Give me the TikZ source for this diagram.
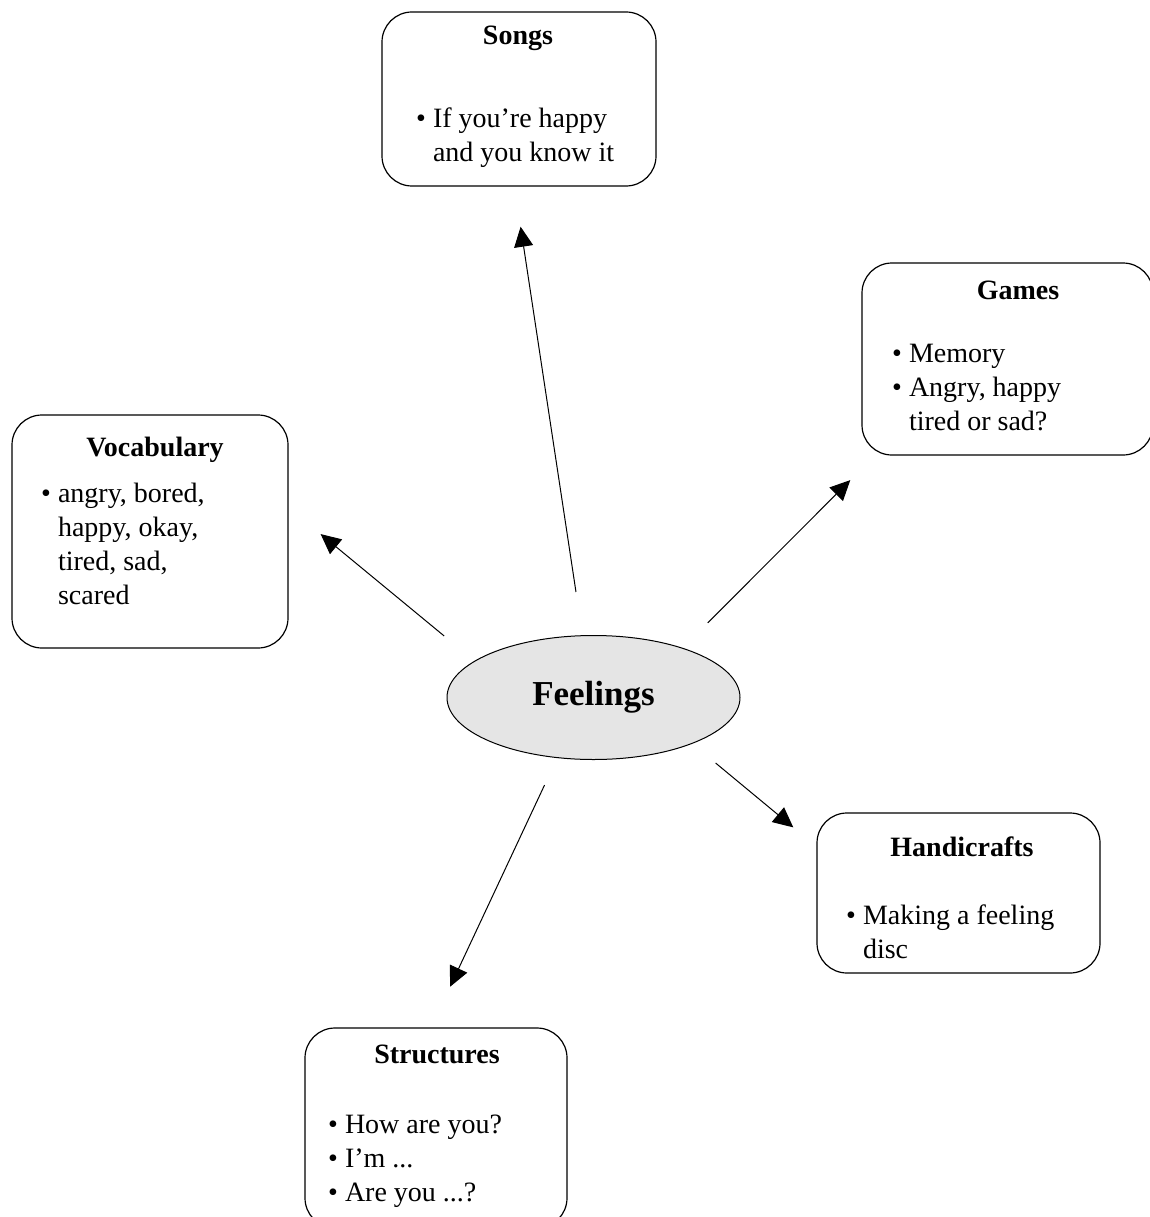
\documentclass[tikz,border=0pt]{standalone}
\usepackage{fontspec}
\setmainfont{Liberation Serif}
\usetikzlibrary{shapes.geometric}
\usetikzlibrary{arrows.meta}
\usetikzlibrary{positioning}
\tikzset{%
  topic/.style = {rectangle,draw,rounded corners=30pt,line width=1.2pt,
        outer sep=0pt},
  core/.style = {ellipse,draw,fill=black!10,line width=1pt,outer sep=0pt,
        minimum width=293pt,minimum height=124pt,inner sep=0pt,
        font=\fontsize{35}{42}\selectfont\bfseries},
  head/.style = {inner sep=0pt,font=\fontsize{28}{34}\selectfont\bfseries},
  items/.style = {inner sep=0pt,font=\fontsize{28}{34}\selectfont},
  toarrow/.style = {-{Triangle[length=20pt,width=19pt]},line width=1pt}
}

\begin{document}
\begin{tikzpicture}[x=1pt,y=-1pt]
   \useasboundingbox (0,0) rectangle (1149,1217);
   \node[core] (feel) at (593.5,697.5) {Feelings};

   \node[topic,minimum width=274pt,minimum height=174pt] (songs) at (519,99) {};
   \node[topic,minimum width=291pt,minimum height=192pt] (games) at (1007.5,359) {};
   \node[topic,minimum width=276pt,minimum height=233pt] (vocab) at (150,531.5) {};
   \node[topic,minimum width=283pt,minimum height=160pt] (hand) at (958.5,893) {};
   \node[topic,minimum width=262pt,minimum height=200pt] (struct) at (436,1128) {};

   \node[head] (songs-head) [below=33pt of songs.north,anchor=base,xshift=-1pt] {Songs};
   \node[items] (songs-list) [below right=116pt and 34pt of songs.north west,anchor=base west]
      {\begin{tabular}[t]{@{}l@{\ }l@{}}\textbullet & If you're happy\\ & and you know it\end{tabular}};

   \node[head] (games-head) [below=36pt of games.north,anchor=base,xshift=10.5pt] {Games};
   \node[items] (games-list) [below right=99pt and 30pt of games.north west,anchor=base west]
      {\begin{tabular}[t]{@{}l@{\ }l@{}}\textbullet & Memory\\ \textbullet & Angry, happy\\ & tired or sad?\end{tabular}};

   \node[head] (vocab-head) [below=41pt of vocab.north,anchor=base,xshift=5pt] {Vocabulary};
   \node[items] (vocab-list) [below right=87pt and 29pt of vocab.north west,anchor=base west]
      {\begin{tabular}[t]{@{}l@{\ }l@{}}\textbullet & angry, bored,\\ & happy, okay,\\ & tired, sad,\\ & scared\end{tabular}};

   \node[head] (hand-head) [below=43pt of hand.north,anchor=base,xshift=3.5pt] {Handicrafts};
   \node[items] (hand-list) [below right=111pt and 29pt of hand.north west,anchor=base west]
      {\begin{tabular}[t]{@{}l@{\ }l@{}}\textbullet & Making a feeling\\ & disc\end{tabular}};

   \node[head] (struct-head) [below=35pt of struct.north,anchor=base,xshift=1pt] {Structures};
   \node[items] (struct-list) [below right=105pt and 23pt of struct.north west,anchor=base west]
      {\begin{tabular}[t]{@{}l@{\ }l@{}}\textbullet & How are you?\\ \textbullet & I'm ...\\ \textbullet & Are you ...?\end{tabular}};

   \draw[toarrow,shorten <=44.2pt,shorten >=41.2pt] (feel.100) -- (songs.267);
   \draw[toarrow,shorten <=35.9pt,shorten >=35.5pt] (feel.29) -- (games.216);
   \draw[toarrow,shorten <=39.7pt,shorten >=42.3pt] (feel.163) -- (vocab.10);
   \draw[toarrow,shorten <=30.8pt,shorten >=30.8pt] (feel.335) -- (hand.162);
   \draw[toarrow,shorten <=30.4pt,shorten >=45.6pt] (feel.239) -- (struct.93);
\end{tikzpicture}
\end{document}
